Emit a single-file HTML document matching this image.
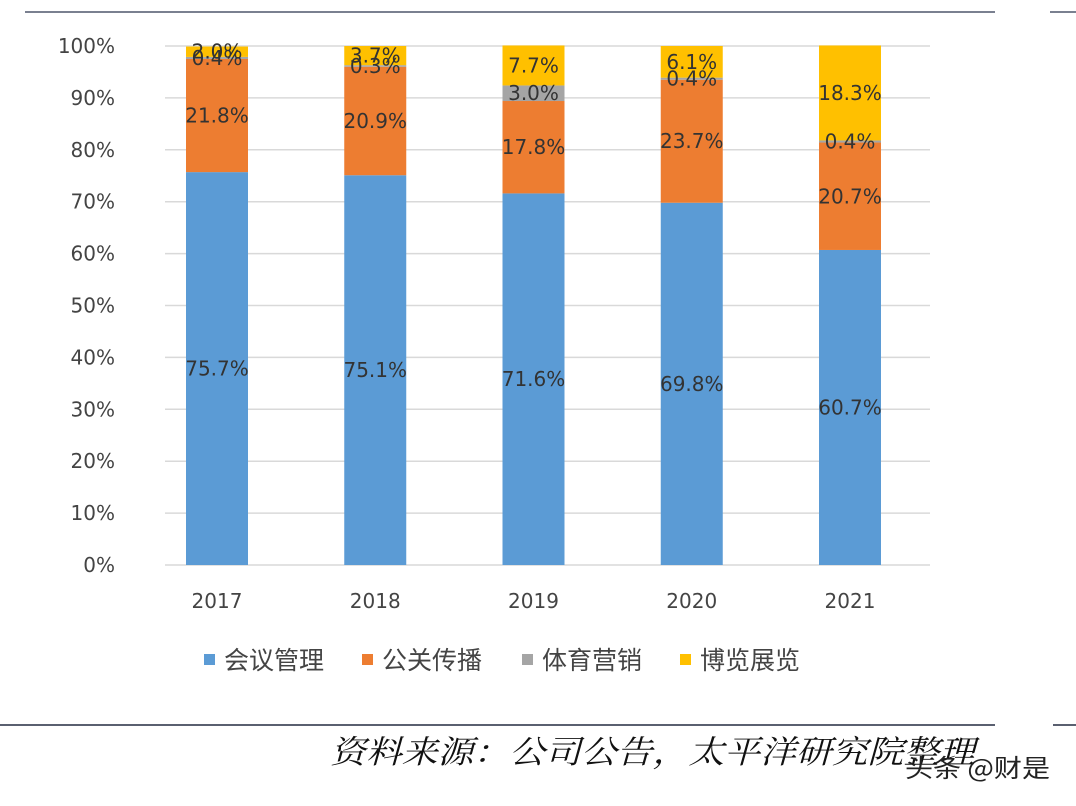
<!DOCTYPE html>
<html><head><meta charset="utf-8"><style>
body{margin:0;background:#fff;width:1076px;height:802px;overflow:hidden;font-family:"DejaVu Sans","Noto Sans CJK SC",sans-serif}
</style></head><body>
<svg width="1076" height="802" xmlns="http://www.w3.org/2000/svg">
<line x1="25" y1="12" x2="995" y2="12" stroke="#7a8090" stroke-width="2"/>
<line x1="1050" y1="12" x2="1076" y2="12" stroke="#7a8090" stroke-width="2"/>
<g id="grid"></g><g id="bars"></g><g id="labels"></g>
<g id="legend" font-size="25" fill="#444" font-family="'Noto Sans CJK SC',sans-serif"></g>
<line x1="0" y1="725" x2="995" y2="725" stroke="#5a6070" stroke-width="2"/>
<line x1="1053" y1="725" x2="1076" y2="725" stroke="#5a6070" stroke-width="2"/>
<text x="330" y="763" font-size="32" font-style="italic" fill="#111" textLength="645" lengthAdjust="spacingAndGlyphs" font-family="'Noto Serif CJK SC','Noto Sans CJK SC',sans-serif">资料来源：公司公告，太平洋研究院整理</text>
<text x="905" y="777" font-size="25" fill="#222" textLength="145" lengthAdjust="spacingAndGlyphs" font-family="'Noto Sans CJK SC',sans-serif">头条 @财是</text>
</svg>
<script>
const years=["2017","2018","2019","2020","2021"];
const meeting=[75.7,75.1,71.6,69.8,60.7];
const pr=[21.8,20.9,17.8,23.7,20.7];
const sports=[0.4,0.3,3.0,0.4,0.4];
const expo=[2.0,3.7,7.7,6.1,18.3];
const yTicks=[0,10,20,30,40,50,60,70,80,90,100];
const seriesNames=["会议管理","公关传播","体育营销","博览展览"];
const colors=["#5B9BD5","#ED7D31","#A5A5A5","#FFC000"];
const NS="http://www.w3.org/2000/svg";
const y0=565,y100=46,x0=165,x1=930;
const ys=v=>y0-(y0-y100)*v/100;
const xc=i=>217+i*158.25;
function mk(t,a,p){const e=document.createElementNS(NS,t);for(const k in a)e.setAttribute(k,a[k]);p.appendChild(e);return e;}
const grid=document.getElementById('grid');
yTicks.forEach(t=>{
 const l=mk('line',{x1:x0,x2:x1,y1:ys(t),y2:ys(t),stroke:'#d9d9d9','stroke-width':1.5},grid);
 
 
 const tx=mk('text',{x:115,y:ys(t)+7,'text-anchor':'end','font-size':20,fill:'#444'},grid);
 tx.textContent=t+'%';
 
 
});
const series=[meeting,pr,sports,expo];
const bars=document.getElementById('bars'),labels=document.getElementById('labels');
years.forEach((yr,i)=>{
 let acc=0;
 series.forEach((s,k)=>{
  const v=s[i],top=ys(acc+v),bot=ys(acc);
  const r=mk('rect',{x:xc(i)-31,y:top,width:62,height:Math.max(0,bot-top),fill:colors[k]},bars);
  
  
  const lb=mk('text',{x:xc(i),y:(top+bot)/2+7,'text-anchor':'middle','font-size':20,fill:'#333'},labels);
  lb.textContent=v.toFixed(1)+'%';
  
  
  acc+=v;
 });
 const xt=mk('text',{x:xc(i),y:608,'text-anchor':'middle','font-size':20,fill:'#444'},bars);
 xt.textContent=yr;
 
 
});
const lg=document.getElementById('legend');
const lx=[204,362,522,680];
seriesNames.forEach((n,k)=>{
 const r=mk('rect',{x:lx[k],y:654,width:11,height:11,fill:colors[k]},lg);
 
 
 const t=mk('text',{x:lx[k]+20,y:669},lg);
 t.textContent=n;
 
 
});
</script>
</body></html>
